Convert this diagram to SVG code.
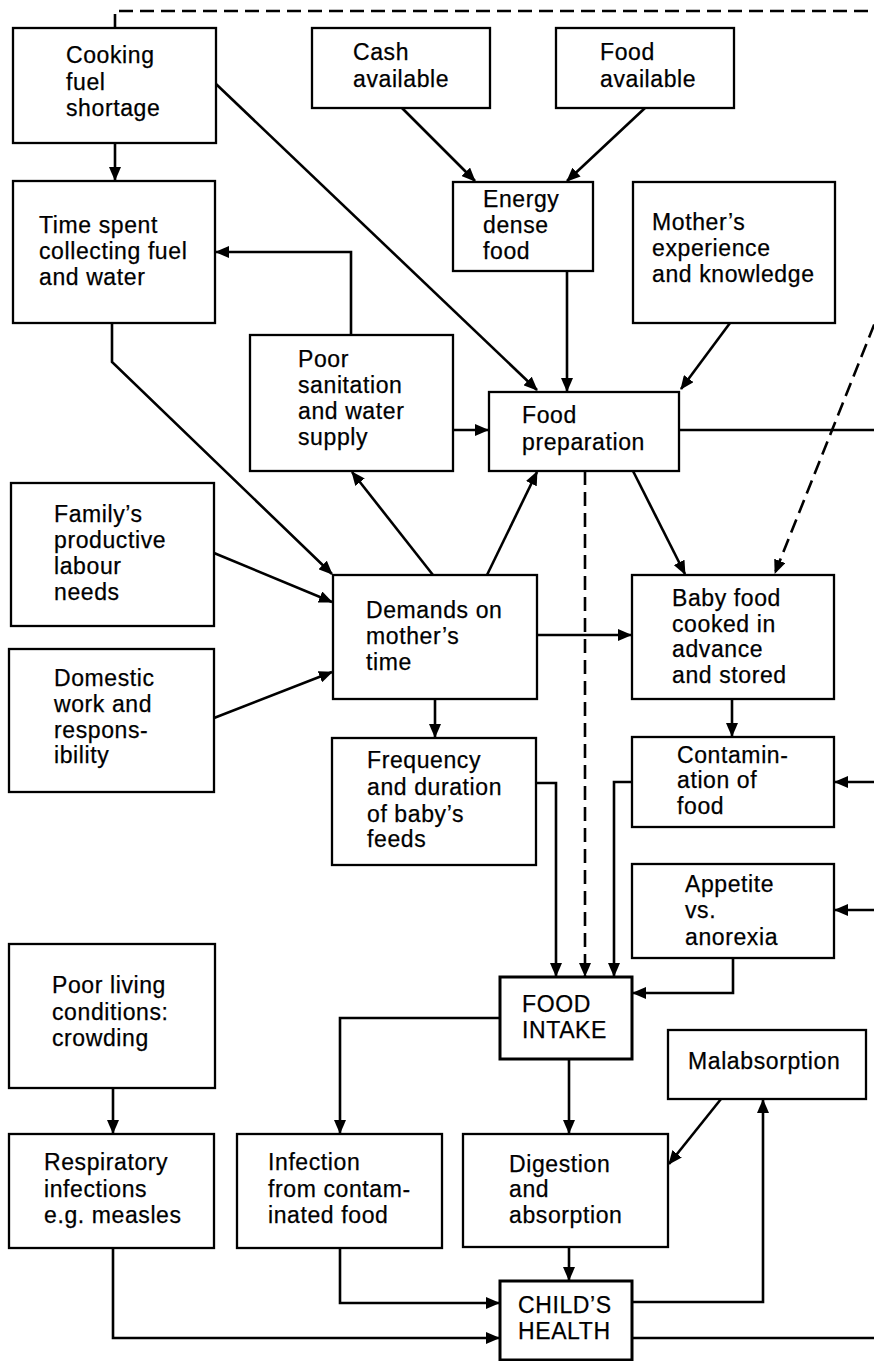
<svg xmlns="http://www.w3.org/2000/svg" width="874" height="1361" viewBox="0 0 874 1361">
<defs>
<style>
.box{fill:#fff;stroke:#000;stroke-width:2.3}
.bold{stroke-width:3}
.t{font-family:"Liberation Sans",Arial,sans-serif;font-size:23px;letter-spacing:0.6px;fill:#000;stroke:#000;stroke-width:0.25}
.c{fill:none;stroke:#000;stroke-width:2.6}
.a{marker-end:url(#ah)}
.d{stroke-dasharray:14 7}
</style>
<marker id="ah" viewBox="0 0 14 12" refX="13" refY="6" markerWidth="14" markerHeight="12" markerUnits="userSpaceOnUse" orient="auto">
<path d="M0,0 L14,6 L0,12 z" fill="#000"/>
</marker>
</defs>
<rect width="874" height="1361" fill="#fff"/>
<g id="connectors">
<path class="c d" d="M115,28 V11 H880"/>
<path class="c a" d="M115,143 V180"/>
<path class="c a" d="M216,84 L537,390"/>
<path class="c a" d="M402,108 L475,181"/>
<path class="c a" d="M645,108 L567,181"/>
<path class="c a" d="M567,271 V391"/>
<path class="c a" d="M730,323 L681,389"/>
<path class="c a" d="M351,335 V252 H216"/>
<path class="c a" d="M112,323 V362 L332,574"/>
<path class="c a" d="M453,430 H488"/>
<path class="c" d="M679,430 H874"/>
<path class="c a" d="M433,575 L352,472"/>
<path class="c a" d="M487,575 L537,472"/>
<path class="c a" d="M633,471 L685,574"/>
<path class="c d a" d="M585,471 V976"/>
<path class="c d a" d="M882,305 L775,573"/>
<path class="c a" d="M214,553 L332,602"/>
<path class="c a" d="M214,718 L332,672"/>
<path class="c a" d="M537,635 H631"/>
<path class="c a" d="M435,699 V737"/>
<path class="c a" d="M732,699 V736"/>
<path class="c a" d="M874,782 H835"/>
<path class="c a" d="M874,910 H835"/>
<path class="c a" d="M536,783 H556 V976"/>
<path class="c a" d="M632,782 H614 V976"/>
<path class="c a" d="M733,958 V993 H633"/>
<path class="c a" d="M500,1018 H340 V1133"/>
<path class="c a" d="M569,1059 V1133"/>
<path class="c a" d="M721,1099 L669,1164"/>
<path class="c a" d="M569,1247 V1280"/>
<path class="c a" d="M340,1248 V1303 H499"/>
<path class="c a" d="M113,1248 V1338 H499"/>
<path class="c a" d="M632,1302 H763 V1100"/>
<path class="c" d="M632,1338 H874"/>
<path class="c a" d="M113,1088 V1133"/>
</g>
<g id="cooking"><rect class="box" x="13" y="28" width="203" height="115"/><text class="t"><tspan x="66" y="63">Cooking</tspan><tspan x="66" y="90">fuel</tspan><tspan x="66" y="116">shortage</tspan></text></g>
<g id="cash"><rect class="box" x="312" y="28" width="178" height="80"/><text class="t"><tspan x="353" y="60">Cash</tspan><tspan x="353" y="87">available</tspan></text></g>
<g id="foodavail"><rect class="box" x="556" y="28" width="178" height="80"/><text class="t"><tspan x="600" y="60">Food</tspan><tspan x="600" y="87">available</tspan></text></g>
<g id="time"><rect class="box" x="13" y="181" width="202" height="142"/><text class="t"><tspan x="39" y="233">Time spent</tspan><tspan x="39" y="259">collecting fuel</tspan><tspan x="39" y="285">and water</tspan></text></g>
<g id="energy"><rect class="box" x="453" y="182" width="140" height="89"/><text class="t"><tspan x="483" y="207">Energy</tspan><tspan x="483" y="233">dense</tspan><tspan x="483" y="259">food</tspan></text></g>
<g id="mother"><rect class="box" x="633" y="182" width="202" height="141"/><text class="t"><tspan x="652" y="230">Mother’s</tspan><tspan x="652" y="256">experience</tspan><tspan x="652" y="282">and knowledge</tspan></text></g>
<g id="sanitation"><rect class="box" x="250" y="335" width="203" height="136"/><text class="t"><tspan x="298" y="367">Poor</tspan><tspan x="298" y="393">sanitation</tspan><tspan x="298" y="419">and water</tspan><tspan x="298" y="445">supply</tspan></text></g>
<g id="foodprep"><rect class="box" x="489" y="392" width="190" height="79"/><text class="t"><tspan x="522" y="423">Food</tspan><tspan x="522" y="450">preparation</tspan></text></g>
<g id="family"><rect class="box" x="11" y="483" width="203" height="143"/><text class="t"><tspan x="54" y="522">Family’s</tspan><tspan x="54" y="548">productive</tspan><tspan x="54" y="574">labour</tspan><tspan x="54" y="600">needs</tspan></text></g>
<g id="demands"><rect class="box" x="333" y="575" width="204" height="124"/><text class="t"><tspan x="366" y="618">Demands on</tspan><tspan x="366" y="644">mother’s</tspan><tspan x="366" y="670">time</tspan></text></g>
<g id="baby"><rect class="box" x="632" y="575" width="202" height="124"/><text class="t"><tspan x="672" y="606">Baby food</tspan><tspan x="672" y="632">cooked in</tspan><tspan x="672" y="657">advance</tspan><tspan x="672" y="683">and stored</tspan></text></g>
<g id="domestic"><rect class="box" x="9" y="649" width="205" height="143"/><text class="t"><tspan x="54" y="686">Domestic</tspan><tspan x="54" y="712">work and</tspan><tspan x="54" y="738">respons-</tspan><tspan x="54" y="763">ibility</tspan></text></g>
<g id="frequency"><rect class="box" x="332" y="738" width="204" height="127"/><text class="t"><tspan x="367" y="768">Frequency</tspan><tspan x="367" y="795">and duration</tspan><tspan x="367" y="822">of baby’s</tspan><tspan x="367" y="847">feeds</tspan></text></g>
<g id="contamination"><rect class="box" x="632" y="737" width="202" height="90"/><text class="t"><tspan x="677" y="763">Contamin-</tspan><tspan x="677" y="788">ation of</tspan><tspan x="677" y="814">food</tspan></text></g>
<g id="appetite"><rect class="box" x="632" y="864" width="202" height="94"/><text class="t"><tspan x="685" y="892">Appetite</tspan><tspan x="685" y="918">vs.</tspan><tspan x="685" y="945">anorexia</tspan></text></g>
<g id="poorliving"><rect class="box" x="9" y="944" width="206" height="144"/><text class="t"><tspan x="52" y="993">Poor living</tspan><tspan x="52" y="1020">conditions:</tspan><tspan x="52" y="1046">crowding</tspan></text></g>
<g id="foodintake"><rect class="box bold" x="500" y="977" width="132" height="82"/><text class="t"><tspan x="522" y="1012">FOOD</tspan><tspan x="522" y="1038">INTAKE</tspan></text></g>
<g id="malabsorption"><rect class="box" x="668" y="1030" width="198" height="69"/><text class="t"><tspan x="688" y="1069">Malabsorption</tspan></text></g>
<g id="respiratory"><rect class="box" x="9" y="1134" width="205" height="114"/><text class="t"><tspan x="44" y="1170">Respiratory</tspan><tspan x="44" y="1197">infections</tspan><tspan x="44" y="1223">e.g. measles</tspan></text></g>
<g id="infection"><rect class="box" x="237" y="1134" width="205" height="114"/><text class="t"><tspan x="268" y="1170">Infection</tspan><tspan x="268" y="1197">from contam-</tspan><tspan x="268" y="1223">inated food</tspan></text></g>
<g id="digestion"><rect class="box" x="463" y="1134" width="205" height="113"/><text class="t"><tspan x="509" y="1172">Digestion</tspan><tspan x="509" y="1197">and</tspan><tspan x="509" y="1223">absorption</tspan></text></g>
<g id="childhealth"><rect class="box bold" x="500" y="1281" width="132" height="79"/><text class="t"><tspan x="518" y="1313">CHILD’S</tspan><tspan x="518" y="1339">HEALTH</tspan></text></g>
</svg>
